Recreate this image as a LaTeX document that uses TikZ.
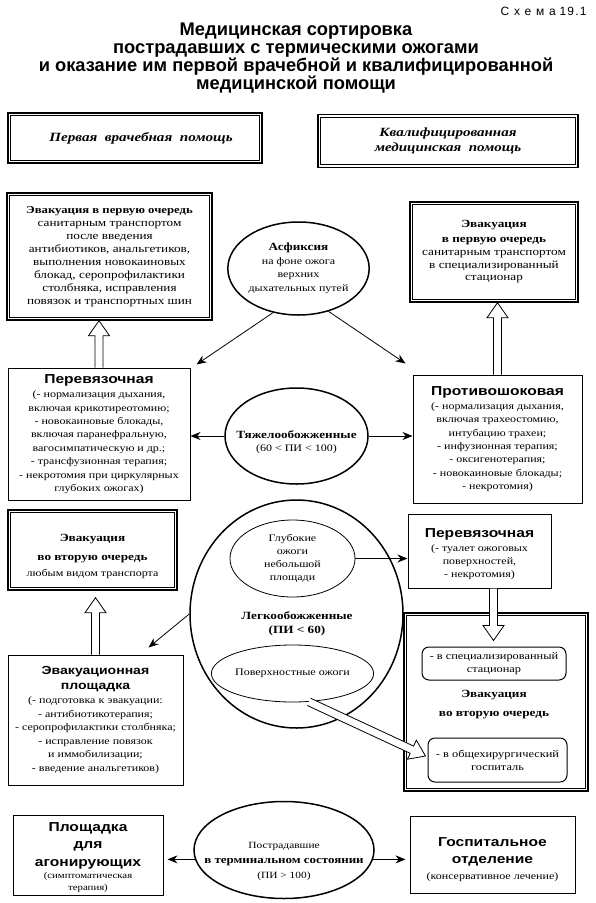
\documentclass[tikz,border=0pt]{standalone}
\usepackage{fontspec}
\setmainfont[FakeStretch=1.2]{Liberation Serif}
\newfontfamily\hsans[FakeStretch=1.2]{Liberation Sans}
\newfontfamily\tsans{Liberation Sans}
\newfontfamily\schemf[LetterSpace=40]{Liberation Sans}
\newfontfamily\schemg[LetterSpace=10]{Liberation Sans}
\usetikzlibrary{shapes.geometric,arrows.meta,calc}
\newcommand\hdB[2][11]{{\fontsize{#1}{14}\selectfont\rmfamily\bfseries #2}}
\newcommand\hdS[2][13]{{\fontsize{#1}{16}\selectfont\hsans\bfseries #2}}
\newcommand\fs[2]{\fontsize{#1}{#2}\selectfont}
\newcommand\innerframe[1]{\draw[line width=0.7pt] ([shift={(3.5pt,-3.5pt)}]#1.north west) rectangle ([shift={(-3.5pt,3.5pt)}]#1.south east);}
\newcommand\hollow[2]{%
  \path ($(#2)!15pt!(#1)$) coordinate (hh);
  \draw[harr] ($(#1)!4pt!90:(#2)$) -- ($(hh)!4pt!90:(#2)$) -- ($(hh)!10.5pt!90:(#2)$) -- (#2)
     -- ($(hh)!10.5pt!-90:(#2)$) -- ($(hh)!4pt!-90:(#2)$) -- ($(#1)!4pt!-90:(#2)$);}
\tikzset{
  box/.style={draw, line width=1pt, align=center, inner sep=2pt},
  dbox/.style={draw, line width=1.4pt, align=center, inner sep=2pt},
  ell/.style={ellipse, draw, line width=1.5pt, align=center, inner sep=0pt},
  iell/.style={ellipse, draw, line width=0.8pt, align=center, inner sep=0pt},
  rbox/.style={draw, rounded corners=7pt, line width=1pt, align=center, inner sep=2pt},
  arr/.style={-{Stealth[length=10pt,width=8pt]}, line width=0.8pt},
  harr/.style={fill=white, line width=0.8pt},
  lbl/.style={align=center, inner sep=0pt},
}
\begin{document}
\begin{tikzpicture}[x=1pt,y=-1pt]
\useasboundingbox (0,0) rectangle (595,903);

\node[anchor=east, font=\fs{12}{14}] (schema) at (590,11) {{\schemf Схема} {\schemg 19.1}};
\node[font=\tsans\bfseries\fs{18.3}{18}, align=center] (title) at (296,58)
 {Медицинская сортировка\\пострадавших с термическими ожогами\\и оказание им первой врачебной и квалифицированной\\медицинской помощи};

% headers
\node[dbox, minimum width=254pt, minimum height=50pt] (h1) at (135,138) {};
\node[lbl, font=\fs{12.6}{15}\bfseries\itshape] (h1txt) at (141,138) {Первая\ \ врачебная\ \ помощь};
\innerframe{h1}
\node[dbox, minimum width=260pt, minimum height=53pt, font=\fs{12.5}{15}\bfseries\itshape] (h2) at (448,141)
 {Квалифицированная\\медицинская\ \ помощь};
\innerframe{h2}

% left evacuation 1
\node[dbox, minimum width=205pt, minimum height=127pt, font=\fs{11}{13}] (ev1) at (109.5,256.5)
 {\hdB[10.6]{Эвакуация в первую очередь}\\санитарным транспортом\\после введения\\антибиотиков, анальгетиков,\\выполнения новокаиновых\\блокад, серопрофилактики\\столбняка, исправления\\повязок и транспортных шин};
\innerframe{ev1}

% asphyxia
\node[ell, minimum width=123pt, minimum height=93pt, font=\fs{10}{13.5}] (asph) at (298.5,268.5)
 {\hdB{Асфиксия}\\на фоне ожога\\верхних\\дыхательных путей};

% right evacuation 1
\node[dbox, minimum width=168pt, minimum height=100pt, font=\fs{11}{12.5}] (ev1r) at (494,252)
 {\hdB{Эвакуация}\\[2pt]\hdB{в первую очередь}\\[1pt]санитарным транспортом\\в специализированный\\стационар};
\innerframe{ev1r}

% perevyazochnaya left
\node[box, minimum width=182pt, minimum height=132pt, font=\fs{10}{13.4}] (perL) at (99,434)
 {\hdS{Перевязочная}\\[1pt](- нормализация дыхания,\\включая крикотиреотомию;\\- новокаиновые блокады,\\включая паранефральную,\\вагосимпатическую и др.;\\- трансфузионная терапия;\\- некротомия при циркулярных\\глубоких ожогах)};

% heavy burns
\node[ell, minimum width=143pt, minimum height=96pt] (heavy) at (296.5,436) {};
\node[lbl, font=\fs{10}{13}] (heavytxt) at (296.5,442.5)
 {\hdB{Тяжелообожженные}\\(60 < ПИ < 100)};

% protivoshokovaya
\node[box, minimum width=169pt, minimum height=128pt, font=\fs{10}{13.3}] (proti) at (497.5,439)
 {\hdS{Противошоковая}\\[1pt](- нормализация дыхания,\\включая трахеостомию,\\интубацию трахеи;\\- инфузионная терапия;\\- оксигенотерапия;\\- новокаиновые блокады;\\- некротомия)};

% left evacuation 2
\node[dbox, minimum width=169pt, minimum height=80pt] (ev2L) at (92.5,550) {};
\node[lbl, font=\fs{10}{16}] (ev2Ltxt) at (92.5,556.5)
 {\hdB{Эвакуация}\\[3pt]\hdB{во вторую очередь}\\любым видом транспорта};
\innerframe{ev2L}

% light burns
\node[ell, minimum width=213pt, minimum height=228pt] (light) at (296.5,614) {};
\node[lbl, font=\fs{11}{14}\bfseries] (lighttxt) at (297,624) {Легкообожженные\\(ПИ < 60)};
\node[iell, minimum width=125pt, minimum height=77pt, font=\fs{10}{13}] (deep) at (292.5,558.5)
 {Глубокие\\ожоги\\небольшой\\площади};
\node[iell, minimum width=151pt, minimum height=57pt, font=\fs{10}{13}] (surf) at (292.5,673.5)
 {Поверхностные ожоги};

% perevyazochnaya right
\node[box, minimum width=143pt, minimum height=74pt] (perR) at (479.5,551) {};
\node[lbl, font=\fs{10}{13}] (perRtxt) at (479.5,554)
 {\hdS{Перевязочная}\\[1pt](- туалет ожоговых\\поверхностей,\\- некротомия)};

% big right box
\node[dbox, minimum width=184pt, minimum height=178pt] (bigR) at (496,702) {};
\innerframe{bigR}
\node[rbox, minimum width=144pt, minimum height=33pt, font=\fs{10.3}{13}] (in1) at (494,663.5)
 {- в специализированный\\стационар};
\node[lbl, font=\fs{11}{19}\bfseries] (ev2R) at (494,705) {Эвакуация\\во вторую очередь};
\node[rbox, minimum width=139pt, minimum height=44pt, font=\fs{10.3}{13}] (in2) at (497.5,760)
 {- в общехирургический\\госпиталь};

% evacuation site
\node[box, minimum width=175pt, minimum height=130pt, font=\fs{10}{13.5}] (evpl) at (95.5,720)
 {\hdS[11.7]{Эвакуационная}\\[1pt]\hdS[11.7]{площадка}\\[1pt](- подготовка к эвакуации:\\- антибиотикотерапия;\\- серопрофилактики столбняка;\\- исправление повязок\\и иммобилизации;\\- введение анальгетиков)};

% bottom row
\node[box, minimum width=150pt, minimum height=80pt] (agon) at (88,855) {};
\node[lbl, anchor=north, font=\fs{9}{17.5}] (agontxt) at (88,822)
 {\hdS{Площадка}\\\hdS{для}\\\hdS{агонирующих}\\[-5pt](симптоматическая\\[-5.5pt]терапия)};
\node[ell, minimum width=180pt, minimum height=97pt] (term) at (284,850) {};
\node[lbl, font=\fs{9.5}{15}] (termtxt) at (284,861)
 {Пострадавшие\\\hdB[10.8]{в терминальном состоянии}\\(ПИ > 100)};
\node[box, minimum width=165pt, minimum height=77pt] (hosp) at (492.5,854.5) {};
\node[lbl, anchor=north, font=\fs{10}{17}] (hosptxt) at (492.5,837.5)
 {\hdS{Госпитальное}\\\hdS{отделение}\\[-1pt](консервативное лечение)};

% line arrows
\draw[arr] (asph.240) -- ([shift={(6pt,3pt)}]perL.north east);
\draw[arr] (asph.305) -- ([shift={(-7pt,11pt)}]proti.north west);
\draw[arr] (heavy.west) -- (heavy.west -| perL.east);
\draw[arr] (heavy.east) -- (heavy.east -| proti.west);
\draw[arr] (deep.east) -- (deep.east -| perR.west);
\draw[arr] (light.west) -- ([shift={(-35pt,7pt)}]evpl.north east);
\draw[arr, shorten >=4pt] (term.186) -- (term.186 -| agon.east);
\draw[arr, shorten >=4pt] (term.354) -- (term.354 -| hosp.west);

% hollow arrows
\coordinate (a1) at (perL.north);
\coordinate (b1) at (perL.north |- ev1.south);
\hollow{a1}{b1}
\coordinate (a2) at (proti.north);
\coordinate (b2) at (proti.north |- ev1r.south);
\hollow{a2}{b2}
\coordinate (a3) at (evpl.north);
\coordinate (b3) at ([yshift=-7pt]evpl.north |- ev2L.south);
\hollow{a3}{b3}
\coordinate (a4) at ([xshift=14pt]perR.south);
\coordinate (b4) at ([shift={(14pt,-52pt)}]perR.south);
\hollow{a4}{b4}
\coordinate (a5) at (surf.300);
\coordinate (b5) at ([shift={(-2pt,4pt)}]in2.west);
\hollow{a5}{b5}
\end{tikzpicture}
\end{document}
